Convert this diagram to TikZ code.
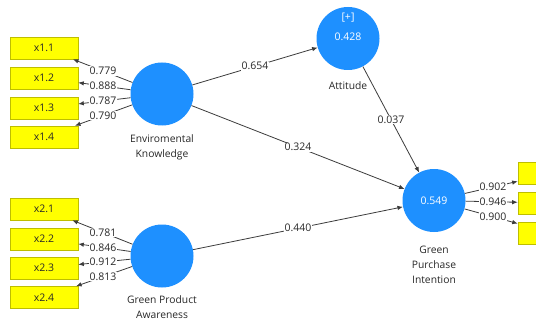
\documentclass[tikz,border=0pt]{standalone}
\usepackage{fontspec}
\setmainfont{Open Sans}
\usetikzlibrary{arrows.meta,calc}
\definecolor{plsblue}{RGB}{30,144,255}
\definecolor{boxyellow}{RGB}{255,255,0}
\definecolor{boxborder}{RGB}{190,190,0}
\definecolor{txtgray}{RGB}{40,40,40}
\definecolor{linegray}{RGB}{60,60,60}
\begin{document}
\begin{tikzpicture}[x=1pt,y=-1pt,
  lv/.style={circle,fill=plsblue,minimum size=63pt,inner sep=0pt},
  mv/.style={rectangle,fill=boxyellow,draw=boxborder,line width=0.6pt,minimum width=68pt,minimum height=22pt,inner sep=0pt,text=txtgray,font=\fontsize{10.5}{12}\selectfont},
  conn/.style={draw=linegray,line width=0.8pt,-{Latex[length=5.5pt,width=4.5pt]}},
  coef/.style={fill=white,inner sep=0.8pt,text=txtgray,font=\fontsize{10.5}{12}\selectfont},
  inlbl/.style={text=white,font=\fontsize{10.5}{12}\selectfont,inner sep=0pt},
  caplbl/.style={align=center,text=txtgray,font=\fontsize{10.3}{15}\selectfont,inner sep=0pt}
]
\clip (0,0) rectangle (536,321);
\fill[white] (0,0) rectangle (536,321);

% latent variables
\node[lv] (env) at (162,94) {};
\node[lv] (gpa) at (162,256) {};
\node[lv] (att) at (348,38.5) {};
\node[lv] (gpi) at (434,200.5) {};

\node[inlbl] (attplus) at (348,18) {[+]};
\node[inlbl] (attr2) at (348,37) {0.428};
\node[inlbl] (gpir2) at (434,201) {0.549};

\node[caplbl] (envcap) at (162,147.5) {Enviromental\\Knowledge};
\node[caplbl] (gpacap) at (162,307.5) {Green Product\\Awareness};
\node[caplbl] (attcap) at (348,86) {Attitude};
\node[caplbl] (gpicap) at (434,265) {Green\\Purchase\\Intention};

% indicators
\node[mv] (x11) at (44,48) {x1.1};
\node[mv] (x12) at (44,78) {x1.2};
\node[mv] (x13) at (44,108) {x1.3};
\node[mv] (x14) at (44,137) {x1.4};
\node[mv] (x21) at (44,209) {x2.1};
\node[mv] (x22) at (44,239) {x2.2};
\node[mv] (x23) at (44,268) {x2.3};
\node[mv] (x24) at (44,297.5) {x2.4};
\node[mv] (y1) at (552,173.5) {};
\node[mv] (y2) at (552,203) {};
\node[mv] (y3) at (552,233) {};

% outer loadings
\foreach \ind/\val in {x11/0.779,x12/0.888,x13/0.787,x14/0.790}{
  \draw[conn] (env) -- (\ind);
  \node[coef] at ($(env.center)!0.5!(\ind.center)$) {\val};
}
\foreach \ind/\val in {x21/0.781,x22/0.846,x23/0.912,x24/0.813}{
  \draw[conn] (gpa) -- (\ind);
  \node[coef] at ($(gpa.center)!0.5!(\ind.center)$) {\val};
}
\foreach \ind/\val in {y1/0.902,y2/0.946,y3/0.900}{
  \draw[conn] (gpi) -- (\ind);
  \node[coef] at ($(gpi.center)!0.5!(\ind.center)$) {\val};
}

% structural paths
\draw[conn] (env) -- (att);
\node[coef] (c1) at ($(env.center)!0.5!(att.center)$) {0.654};
\draw[conn] (env) -- (gpi);
\node[coef] (c2) at ($(env.center)!0.5!(gpi.center)$) {0.324};
\draw[conn] (att) -- (gpi);
\node[coef] (c3) at ($(att.center)!0.5!(gpi.center)$) {0.037};
\draw[conn] (gpa) -- (gpi);
\node[coef] (c4) at ($(gpa.center)!0.5!(gpi.center)$) {0.440};
\end{tikzpicture}
\end{document}
